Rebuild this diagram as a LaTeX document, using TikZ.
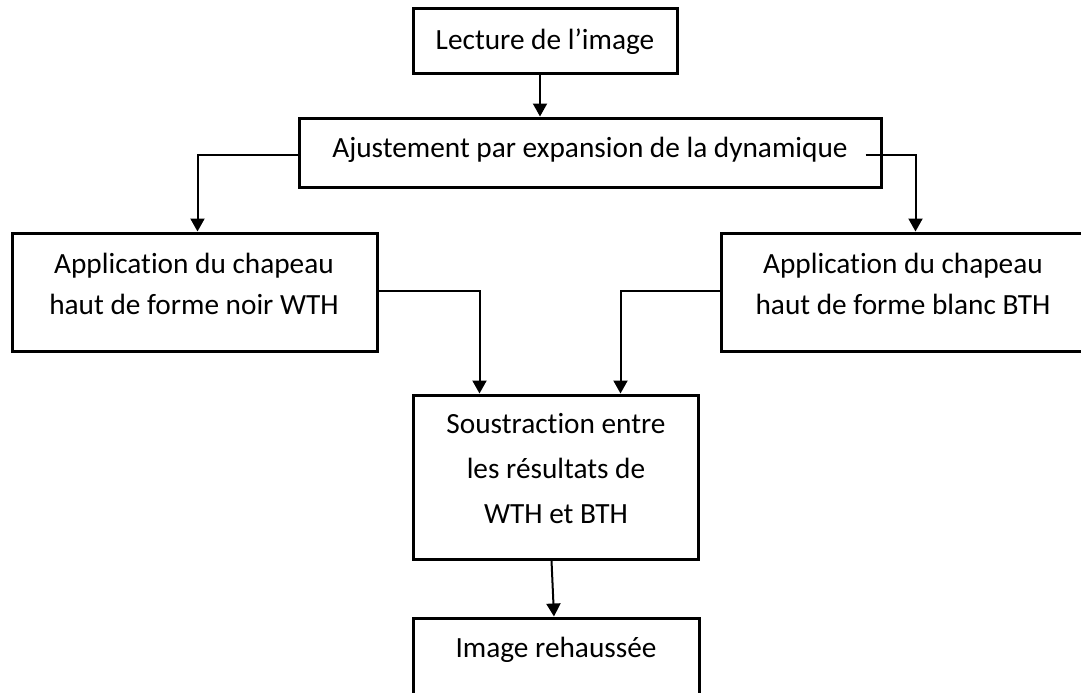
\documentclass[tikz,border=0pt]{standalone}
\usepackage{fontspec}
\setmainfont{Carlito}[Ligatures=NoCommon]
\usepackage{tikz}
\usetikzlibrary{arrows.meta,positioning}

\begin{document}
\begin{tikzpicture}[x=1pt,y=-1pt,
  box/.style={draw,line width=3pt,inner sep=0pt},
  txt/.style={font=\fontsize{29.3}{#1}\selectfont,align=center,anchor=base,inner sep=0pt},
  txt/.default=43,
  link/.style={line width=2pt,-{Triangle[length=13pt,width=14pt]}}]
\useasboundingbox (0,0) rectangle (1081,693);
\node[box,minimum width=264,minimum height=64] (lecture) at (545,41) {};
\node[box,minimum width=582,minimum height=69] (ajust) at (590,152.5) {};
\node[box,minimum width=365,minimum height=118] (wth) at (194.5,292) {};
\node[box,minimum width=365,minimum height=118] (bth) at (903.5,292) {};
\node[box,minimum width=285,minimum height=164] (soustr) at (555.5,477) {};
\node[box,minimum width=286,minimum height=77] (rehaus) at (556,656.5) {};
\node[txt] (lectureT) at (545,50) {Lecture de l’image};
\node[txt] (ajustT) at (590,157) {Ajustement par expansion de la dynamique};
\node[txt=41] (wthT) at (194,314) {Application du chapeau\\haut de forme noir WTH};
\node[txt=41] (bthT) at (903,314) {Application du chapeau\\haut de forme blanc BTH};
\node[txt=45] (soustrT) at (556,523) {Soustraction entre\\les résultats de\\WTH et BTH};
\node[txt] (rehausT) at (556,657) {Image rehaussée};
\draw[link] ([xshift=-5]lecture.south) -- ([xshift=-5]lecture.south |- ajust.north);
\draw[link] ([yshift=-2]ajust.west) -| ([xshift=3]wth.north);
\draw[link] ([xshift=-17,yshift=-2]ajust.east) -| ([xshift=12]bth.north);
\draw[link] ([yshift=1]wth.east) -| ([xshift=-76]soustr.north);
\draw[link] ([yshift=1]bth.west) -| ([xshift=65]soustr.north);
\draw[link] ([xshift=-4]soustr.south) -- ([xshift=-2]rehaus.north);
\end{tikzpicture}
\end{document}
